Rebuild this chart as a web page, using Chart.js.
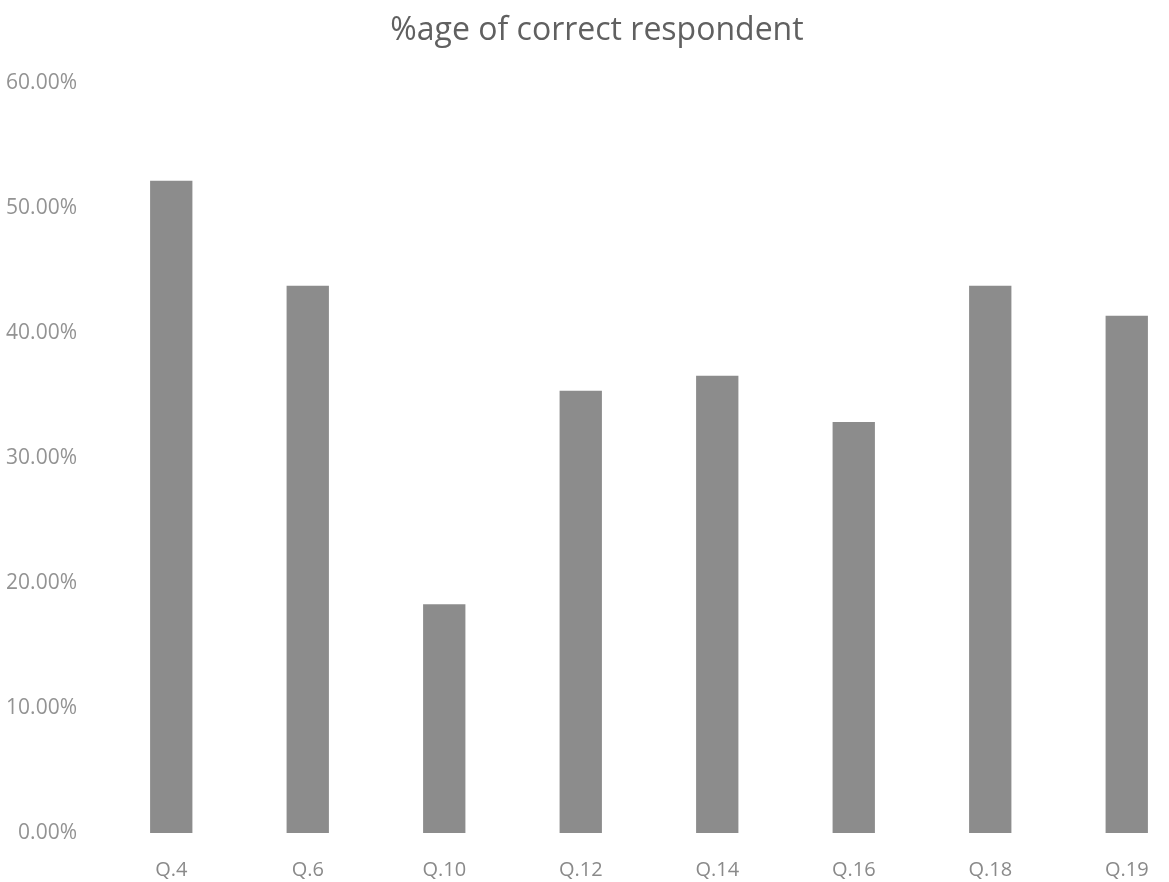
<!DOCTYPE html>
<html>
<head>
<meta charset="utf-8">
<script src="https://cdn.jsdelivr.net/npm/chart.js@4/dist/chart.umd.min.js"></script>
<style>
  html, body { margin: 0; padding: 0; background: #ffffff; overflow: hidden; width: 1169px; height: 882px; }
  #wrap { position: absolute; left: -20px; top: 0; width: 1234px; height: 882px; }
</style>
</head>
<body>
<div id="wrap"><canvas id="chart" width="1234" height="882"></canvas></div>
<script>
// Share of respondents answering each question correctly (percent)
const questions = ['Q.4', 'Q.6', 'Q.10', 'Q.12', 'Q.14', 'Q.16', 'Q.18', 'Q.19'];
const correctPct = [52.2, 43.8, 18.3, 35.4, 36.6, 32.9, 43.8, 41.4];
const yTicks = [0, 10, 20, 30, 40, 50, 60];

const font = "'Open Sans', 'Noto Sans', sans-serif";

new Chart(document.getElementById('chart'), {
  type: 'bar',
  data: {
    labels: questions,
    datasets: [{
      label: '%age of correct respondent',
      data: correctPct,
      backgroundColor: '#8c8c8c',
      borderWidth: 0,
      categoryPercentage: 1,
      barPercentage: 0.31
    }]
  },
  options: {
    responsive: false,
    animation: false,
    layout: { padding: { left: 19, right: 19, top: 0, bottom: 0 } },
    plugins: {
      legend: { display: false },
      tooltip: { enabled: false },
      title: {
        display: true,
        text: '%age of correct respondent',
        color: '#606060',
        font: { family: font, size: 32, weight: 'normal' },
        padding: { top: 12, bottom: 33 }
      }
    },
    scales: {
      x: {
        grid: { display: false },
        border: { display: false },
        ticks: {
          color: '#8a8a8a',
          font: { family: font, size: 20 },
          padding: 17,
          maxRotation: 0
        },
        afterFit: s => { s.height = 49; }
      },
      y: {
        min: 0,
        max: 60,
        grid: { display: false },
        border: { display: false },
        afterBuildTicks: s => { s.ticks = yTicks.map(v => ({ value: v })); },
        ticks: {
          color: '#939393',
          font: { family: font, size: 21 },
          padding: 18,
          callback: v => Number(v).toFixed(2) + '%'
        },
        afterFit: s => { s.width = 104; }
      }
    }
  }
});
</script>
</body>
</html>
